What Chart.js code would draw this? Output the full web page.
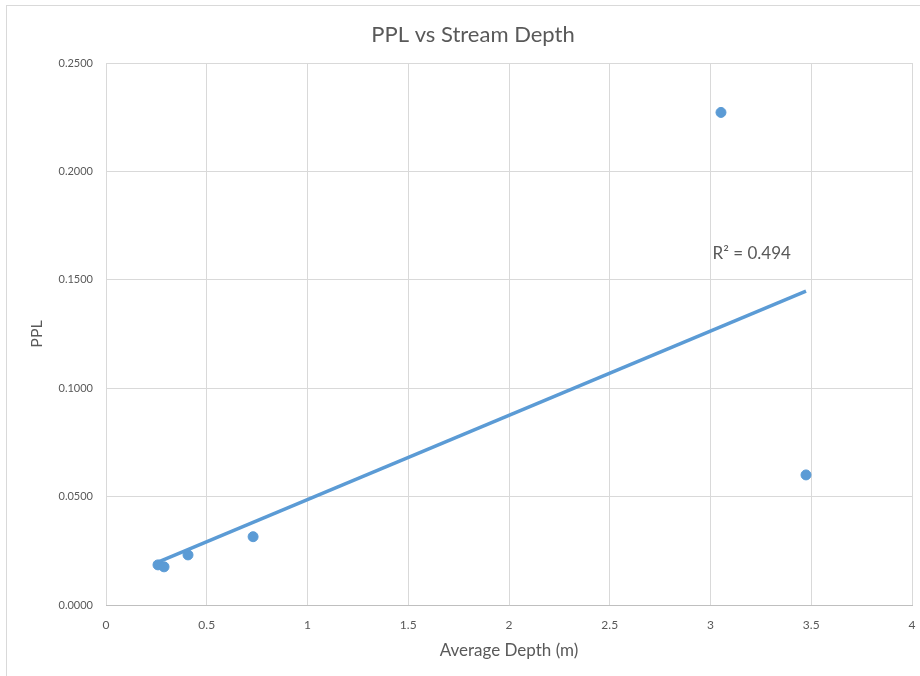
<!DOCTYPE html>
<html>
<head>
<meta charset="utf-8">
<title>PPL vs Stream Depth</title>
<script src="https://cdn.jsdelivr.net/npm/chart.js@4/dist/chart.umd.min.js"></script>
<style>
    body { margin: 0; background: #ffffff; overflow: hidden; }
    #frame {
        position: absolute; left: 6px; top: 5px; width: 940px; height: 690px;
        border: 1px solid #d9d9d9;
    }
    #wrap { position: absolute; left: 0; top: 0; width: 946px; height: 676px; }
</style>
</head>
<body>
<div id="frame"></div>
<div id="wrap"><canvas id="depthChart"></canvas></div>
<script>
// PPL vs Stream Depth - scatter with linear trendline

// Measured points (average depth in m, PPL)
const depthValues = [0.258, 0.288, 0.407, 0.730, 3.052, 3.474];
const pplValues = [0.0185, 0.0176, 0.0231, 0.0315, 0.2272, 0.0600];

// Trendline end points as drawn
const trendDepth = [0.258, 3.474];
const trendPpl = [0.0198, 0.1448];

// Text
const chartTitle = 'PPL vs Stream Depth';
const r2Label = 'R² = 0.494';
const r2Depth = 3.01;
const r2Ppl = 0.1619;

const blue = '#5b9bd5';
const textGrey = '#595959';
const fontFamily = "Lato, 'Open Sans', sans-serif";

// Title centred on the whole chart frame, plus the R² text beside the trendline
const textPlugin = {
    id: 'chartText',
    afterDatasetsDraw(chart) {
        const ctx = chart.ctx;
        ctx.save();
        ctx.fillStyle = textGrey;
        ctx.textBaseline = 'middle';

        ctx.font = '22px ' + fontFamily;
        ctx.textAlign = 'center';
        ctx.fillText(chartTitle, chart.width / 2, 35);

        const x = chart.scales.x.getPixelForValue(r2Depth);
        const y = chart.scales.y.getPixelForValue(r2Ppl);
        ctx.font = '17px ' + fontFamily;
        ctx.textAlign = 'left';
        ctx.fillText(r2Label, x, y);
        ctx.restore();
    }
};

function toPoints(xs, ys) {
    return xs.map((x, i) => ({ x: x, y: ys[i] }));
}

const ctx = document.getElementById('depthChart').getContext('2d');

new Chart(ctx, {
    type: 'scatter',
    data: {
        datasets: [
            {
                label: 'PPL',
                data: toPoints(depthValues, pplValues),
                backgroundColor: blue,
                borderColor: blue,
                pointRadius: 5,
                pointHoverRadius: 5
            },
            {
                label: 'Linear (PPL)',
                type: 'line',
                data: toPoints(trendDepth, trendPpl),
                borderColor: blue,
                borderWidth: 3.5,
                pointRadius: 0,
                fill: false
            }
        ]
    },
    options: {
        responsive: true,
        maintainAspectRatio: false,
        animation: false,
        layout: {
            padding: { left: 0, right: 34, top: 63, bottom: 0 }
        },
        scales: {
            x: {
                type: 'linear',
                min: 0,
                max: 4,
                ticks: {
                    stepSize: 0.5,
                    padding: 13,
                    color: textGrey,
                    font: { family: fontFamily, size: 12 },
                    callback: function(value) { return String(value); }
                },
                grid: {
                    color: '#d9d9d9',
                    drawTicks: false
                },
                border: { color: '#bfbfbf', width: 1 },
                title: {
                    display: true,
                    text: 'Average Depth (m)',
                    color: textGrey,
                    font: { family: fontFamily, size: 17 },
                    padding: { top: 0, bottom: 15 }
                },
                afterFit(scale) { scale.height = 71; }
            },
            y: {
                min: 0,
                max: 0.25,
                ticks: {
                    stepSize: 0.05,
                    padding: 13,
                    color: textGrey,
                    font: { family: fontFamily, size: 11 },
                    callback: function(value) { return value.toFixed(4); }
                },
                grid: {
                    color: '#d9d9d9',
                    drawTicks: false
                },
                border: { display: false },
                title: {
                    display: true,
                    text: 'PPL',
                    color: textGrey,
                    font: { family: fontFamily, size: 16 },
                    padding: { top: 27, bottom: 0 }
                },
                afterFit(scale) { scale.width = 106; }
            }
        },
        plugins: {
            legend: { display: false },
            tooltip: { enabled: false },
            title: { display: false }
        }
    },
    plugins: [textPlugin]
});
</script>
</body>
</html>
